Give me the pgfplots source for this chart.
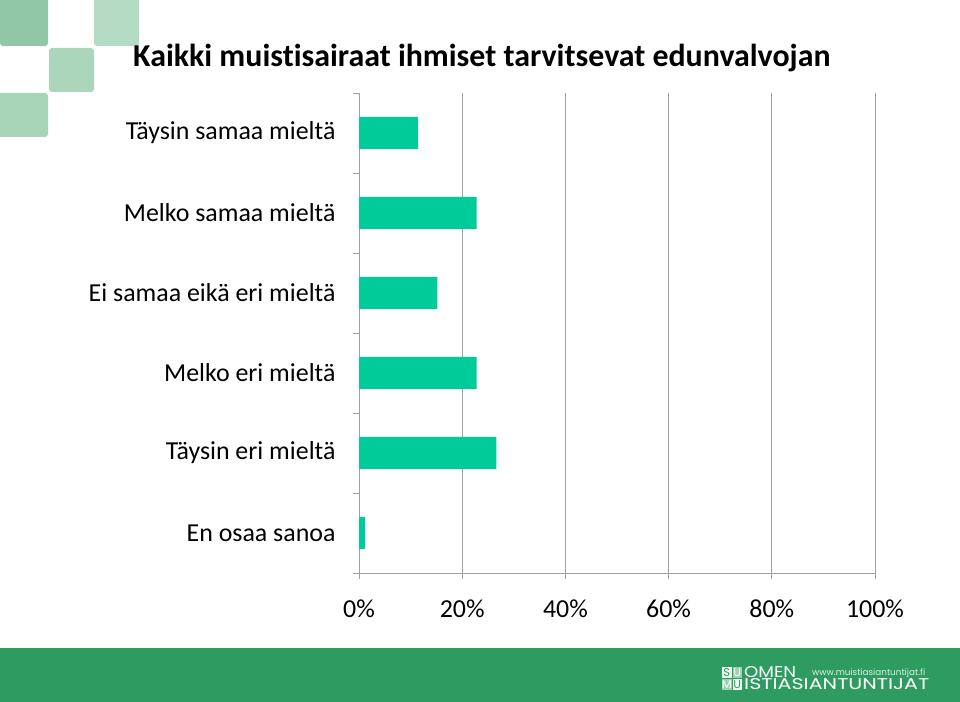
\documentclass[border=0pt]{standalone}
\usepackage{fontspec}
\setmainfont{Carlito}[Ligatures=NoCommon]
\usepackage{graphicx}
\usepackage{pgfplots}
\pgfplotsset{compat=1.18}
\definecolor{barc}{HTML}{00CC99}
\definecolor{axgray}{HTML}{A0A0A0}
\definecolor{band}{HTML}{2E9C60}
\definecolor{sqA}{HTML}{92C7A6}
\definecolor{sqB}{HTML}{B4DBC3}
\definecolor{sqC}{HTML}{ACD6BB}
\definecolor{sqD}{HTML}{A7D3B7}
\definecolor{logolt}{HTML}{9ED0B2}
\begin{document}
\begin{tikzpicture}[x=1bp,y=1bp]
\useasboundingbox (0,0) rectangle (960,702);
% decorative squares
\fill[sqA, rounded corners=3bp] (0,712) rectangle (48,656);
\fill[sqB, rounded corners=3bp] (94,712) rectangle (139,656);
\fill[sqC, rounded corners=3bp] (49,654) rectangle (94,610);
\fill[sqD, rounded corners=3bp] (-10,609) rectangle (48,565);
% bottom band
\fill[band] (0,0) rectangle (960,54);
% title
\node[anchor=base west, inner sep=0pt, font=\fontsize{32}{36}\selectfont\bfseries] at (133,635) {Kaikki muistisairaat ihmiset tarvitsevat edunvalvojan};
% logo
\fill[white!92!band] (722,24) rectangle (731.5,35);
\fill[logolt] (732.5,24) rectangle (742,35);
\fill[logolt] (722,12) rectangle (731.5,23);
\fill[white!92!band] (732.5,12) rectangle (742,23);
\node[anchor=center, inner sep=0pt, text=band] at (726.8,29.5) {\resizebox{!}{8bp}{\fontspec{Poppins}S}};
\node[anchor=center, inner sep=0pt, text=white] at (737.2,29.5) {\resizebox{!}{8bp}{\fontspec{Poppins}U}};
\node[anchor=center, inner sep=0pt, text=white] at (726.8,17.5) {\resizebox{!}{8bp}{\fontspec{Poppins}M}};
\node[anchor=center, inner sep=0pt, text=band] at (737.2,17.5) {\resizebox{!}{8bp}{\fontspec{Poppins}U}};
\node[anchor=south west, inner sep=0pt, text=white] at (744,24) {\resizebox{52bp}{11bp}{\fontspec{Poppins}OMEN}};
\node[anchor=south west, inner sep=0pt, text=white] at (744,12) {\resizebox{185bp}{11bp}{\fontspec{Poppins}ISTIASIANTUNTIJAT}};
\node[anchor=south west, inner sep=0pt, text=white!85!band] at (812,24) {\resizebox{113bp}{!}{\fontspec{Poppins}\fontsize{8}{8}\selectfont www.muistiasiantuntijat.fi}};
\begin{axis}[
  at={(359bp,129bp)}, anchor=south west,
  scale only axis, width=516bp, height=480bp,
  xbar, bar width=32bp,
  xmin=0, xmax=100, ymin=-0.5, ymax=5.5,
  axis lines=left, axis line style={draw=axgray, -, line width=0.9bp},
  tick align=outside, major tick length=6bp, minor tick length=6bp,
  every tick/.style={draw=axgray, line width=0.9bp},
  every major y tick/.style={draw=none},
  xtick={0,20,40,60,80,100},
  xticklabel={\pgfmathprintnumber{\tick}\%},
  xmajorgrids, grid style={draw=axgray, line width=0.9bp},
  ytick={0,1,2,3,4,5},
  yticklabels={En osaa sanoa, Täysin eri mieltä, Melko eri mieltä, Ei samaa eikä eri mieltä, Melko samaa mieltä, Täysin samaa mieltä},
  minor ytick={-0.5,0.5,1.5,2.5,3.5,4.5,5.5},
  /pgf/number format/assume math mode=true,
  tick label style={font=\fontsize{26}{30}\selectfont, text=black},
  xticklabel style={yshift=-17bp},
  yticklabel style={xshift=-14bp},
  clip=false,
]
\addplot[fill=barc, draw=none] coordinates {
  (1.2,0) (26.6,1) (22.8,2) (15.2,3) (22.8,4) (11.4,5)
};
\end{axis}
\end{tikzpicture}
\end{document}
